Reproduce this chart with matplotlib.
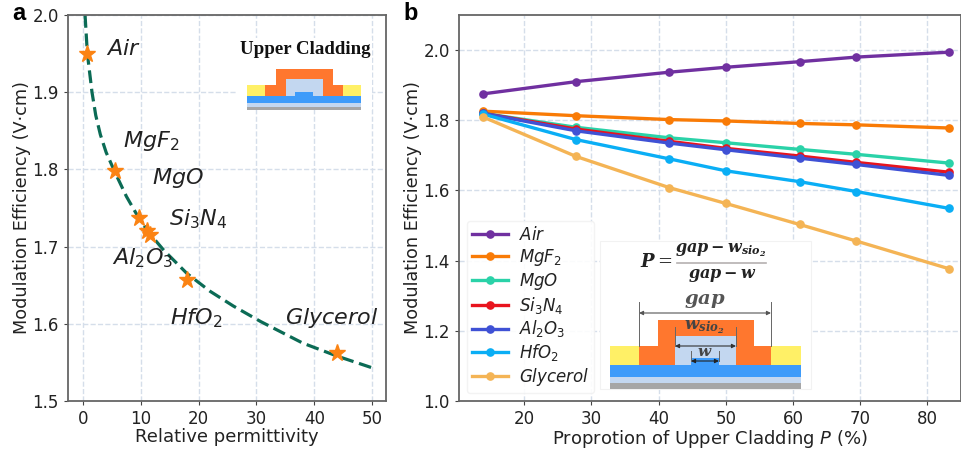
import matplotlib
matplotlib.use('Agg')
import matplotlib.pyplot as plt
from matplotlib.patches import Rectangle

W, H = 962, 449

# panel a
permittivity = [0.75, 5.5, 9.6, 11, 11.5, 18, 44]
efficiency = [1.95, 1.798, 1.737, 1.72, 1.715, 1.657, 1.562]
curveX = [0.35, 0.75, 1.55, 2.2, 3, 4, 5.6, 7.5, 9.8, 11.5, 14, 18, 22, 26, 30.7, 38, 44, 50]
curveY = [2.0, 1.95, 1.9, 1.87, 1.845, 1.822, 1.795, 1.765, 1.735, 1.717, 1.695, 1.665, 1.642, 1.623, 1.603, 1.575, 1.558, 1.543]
materials = ['$\\mathit{Air}$', '$\\mathit{MgF_2}$', '$\\mathit{MgO}$', '$\\mathit{Si_3N_4}$',
             '$\\mathit{Al_2O_3}$', '$\\mathit{HfO_2}$', '$\\mathit{Glycerol}$']
labelPx = [(106, 49), (123, 141), (152, 178), (169, 219), (112, 258), (170, 318), (285, 318)]

# panel b
proportion = [13.8, 27.7, 41.6, 50, 61, 69.4, 83.2]
air = [1.875, 1.91, 1.937, 1.951, 1.967, 1.98, 1.994]
mgf2 = [1.826, 1.813, 1.802, 1.798, 1.791, 1.787, 1.778]
mgo = [1.82, 1.78, 1.75, 1.736, 1.717, 1.703, 1.678]
si3n4 = [1.82, 1.775, 1.74, 1.72, 1.698, 1.68, 1.652]
al2o3 = [1.82, 1.77, 1.735, 1.716, 1.692, 1.674, 1.643]
hfo2 = [1.818, 1.745, 1.69, 1.656, 1.625, 1.597, 1.549]
glycerol = [1.81, 1.697, 1.608, 1.563, 1.503, 1.456, 1.377]
series = [air, mgf2, mgo, si3n4, al2o3, hfo2, glycerol]
colors = ['#7030A0', '#F97B06', '#2AD2A8', '#E8141E', '#3F51D5', '#0AAEF5', '#F4B455']


def pxAxes(left, top, right, bottom):
    return fig.add_axes([left / W, 1 - bottom / H, (right - left) / W, (bottom - top) / H])


def styleAxes(ax):
    ax.grid(True, linestyle='--', color='#D5DEEA', linewidth=1)
    ax.set_axisbelow(True)
    for s in ax.spines.values():
        s.set_color('#666666')
        s.set_linewidth(1.3)
    ax.tick_params(labelsize=12, color='#444444', length=3, labelcolor='#222222')


fig = plt.figure(figsize=(W / 100, H / 100), dpi=100)

axA = pxAxes(68, 15, 386, 401)
styleAxes(axA)
axA.plot(curveX, curveY, '--', color='#0B6B55', linewidth=2.3, dashes=(4, 1.8))
axA.plot(permittivity, efficiency, '*', color='#FB8313', markersize=12.5, linestyle='none')
axA.set_xlim(-2.6, 52.4)
axA.set_ylim(1.5, 2.0)
axA.set_xticks([0, 10, 20, 30, 40, 50])
axA.set_yticks([1.5, 1.6, 1.7, 1.8, 1.9, 2.0])
axA.set_xlabel('Relative permittivity', fontsize=13, color='#222222', labelpad=0)
axA.set_ylabel('Modulation Efficiency (V·cm)', fontsize=12.7, color='#222222', labelpad=1)

axB = pxAxes(459, 15, 961, 401)
styleAxes(axB)
for values, color, name in zip(series, colors, materials):
    axB.plot(proportion, values, '-o', color=color, linewidth=2.4, markersize=5.2, label=name)
axB.set_xlim(10.3, 85.0)
axB.set_ylim(1.0, 2.1)
axB.set_xticks([20, 30, 40, 50, 60, 70, 80])
axB.set_yticks([1.0, 1.2, 1.4, 1.6, 1.8, 2.0])
axB.set_xlabel('Proprotion of Upper Cladding $\\mathit{P}$ (%)', fontsize=13, color='#222222', labelpad=0)
axB.set_ylabel('Modulation Efficiency (V·cm)', fontsize=12.7, color='#222222', labelpad=1)
axB.legend(loc='lower left', bbox_to_anchor=(8 / 502, 8 / 386), borderaxespad=0, fontsize=12,
           labelspacing=0.17, handlelength=2.15, handletextpad=0.65, borderpad=0.3, framealpha=0.9,
           edgecolor='#F2F2F2', labelcolor='#222222')

# overlay in pixel coordinates for labels and the two schematics
over = fig.add_axes([0, 0, 1, 1], zorder=5)
over.set_xlim(0, W)
over.set_ylim(H, 0)
over.axis('off')


def box(x0, y0, x1, y1, color, z=6):
    over.add_patch(Rectangle((x0, y0), x1 - x0, y1 - y0, facecolor=color, edgecolor='none', zorder=z))


for name, (x, y) in zip(materials, labelPx):
    over.text(x, y, name, fontsize=16, color='#222222', va='center', ha='left')

over.text(12, 14, 'a', fontsize=17, fontweight='bold', family='Liberation Sans', va='center')
over.text(403, 14, 'b', fontsize=17, fontweight='bold', family='Liberation Sans', va='center')

YELLOW = '#FFF066'
ORANGE = '#FF772E'
PALE = '#C3D7F0'
BLUE = '#3D9BFA'
GREY = '#A6A6A6'

# upper cladding inset
box(237, 38, 372, 110, '#FFFFFF', 5)
over.text(305, 50, 'Upper Cladding', fontsize=13.6, fontweight='bold', family='Liberation Serif',
          ha='center', va='center', color='#111111', zorder=7)
box(247, 85, 361, 96, YELLOW)
box(265, 85, 343, 96, ORANGE)
box(276, 69, 333, 85, ORANGE)
box(286, 79, 323, 96, PALE)
box(295, 92, 313, 96, BLUE)
box(247, 96, 361, 103, BLUE)
box(247, 103, 361, 107, PALE)
box(247, 107, 361, 110, GREY)

# formula inset
box(600, 241, 811, 389, '#FFFFFF', 5)
over.add_patch(Rectangle((600, 241), 211, 148, facecolor='none', edgecolor='#F2F2F2', linewidth=0.8, zorder=5))
box(610, 346, 801, 365, YELLOW)
box(639, 346, 771, 365, ORANGE)
box(658, 320, 754, 346, ORANGE)
box(675, 336, 736, 365, PALE)
box(691, 358, 719, 365, BLUE)
box(610, 365, 801, 377, BLUE)
box(610, 377, 801, 383, PALE)
box(610, 383, 801, 389, GREY)

serif = dict(math_fontfamily='dejavuserif', ha='center', va='center', zorder=7)
over.text(656, 262, r'$\mathbfit{P}=$', fontsize=13, color='#222222', **serif)
over.text(721, 250, r'$\mathbfit{gap-w_{sio_2}}$', fontsize=11.5, color='#222222', **serif)
over.plot([677, 766], [262.5, 262.5], color='#B5B0B0', linewidth=1.2, zorder=7)
over.text(722, 275, r'$\mathbfit{gap-w}$', fontsize=11.5, color='#222222', **serif)
over.text(705, 300, r'$\mathbfit{gap}$', fontsize=14, color='#555555', **serif)
over.text(704, 327, r'$\mathbfit{w_{sio_2}}$', fontsize=12, color='#444444', **serif)
over.text(705, 352, r'$\mathbfit{w}$', fontsize=11, color='#444444', **serif)

for x0, x1, y, c in [(639, 771, 313, '#555555'), (675, 736, 346, '#333333'), (691, 719, 361, '#222222')]:
    over.annotate('', xy=(x0, y), xytext=(x1, y), zorder=8,
                  arrowprops=dict(arrowstyle='<|-|>', color=c, linewidth=0.8, mutation_scale=6, shrinkA=0, shrinkB=0))
for x, y0, y1 in [(639, 302, 346), (771, 302, 346), (675, 327, 346), (736, 327, 346), (691, 351, 361), (719, 351, 361)]:
    over.plot([x, x], [y0, y1], color='#666666', linewidth=0.7, zorder=8)

fig.savefig('out.png', dpi=100)
